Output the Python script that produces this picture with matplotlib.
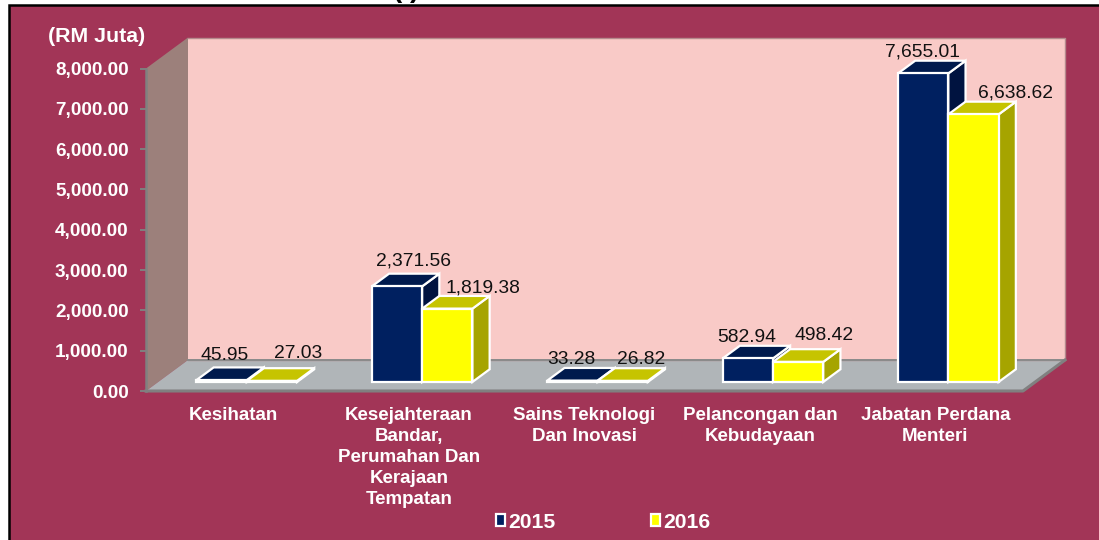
import matplotlib
matplotlib.use("Agg")
import matplotlib.pyplot as plt
from matplotlib.patches import Polygon, Rectangle, Patch
from matplotlib.ticker import FuncFormatter

plt.rcParams['font.family'] = ['Liberation Sans', 'DejaVu Sans']

categories = ["Kesihatan", "Kesejahteraan\nBandar,\nPerumahan Dan\nKerajaan\nTempatan",
              "Sains Teknologi\nDan Inovasi", "Pelancongan dan\nKebudayaan",
              "Jabatan Perdana\nMenteri"]
values_2015 = [45.95, 2371.56, 33.28, 582.94, 7655.01]
values_2016 = [27.03, 1819.38, 26.82, 498.42, 6638.62]
years = ["2015", "2016"]
y_ticks = [0, 1000, 2000, 3000, 4000, 5000, 6000, 7000, 8000]

W, H = 1099, 540
MAROON = "#A23557"
label_offsets_2015 = [(3, 24.5), (17, 25), (-1, 21.5), (-1, 21), (-1, 21)]
label_offsets_2016 = [(26, 27.5), (36, 20.5), (18, 21.5), (26, 26.5), (42, 21)]

fig = plt.figure(figsize=(W / 100, H / 100), dpi=100, facecolor="white")
# maroon panel: its black frame shows only on the left and top, the rest runs off the picture
fig.add_artist(Rectangle((8.5 / W, -0.05), 1.05, 1.05 - 5.5 / H, transform=fig.transFigure,
                         fc=MAROON, ec="black", lw=1.8, zorder=-5))
# title of the source page, cut off by the top edge: only the lower ends of its brackets show
fig.text(406 / W, 1 + 3 / H, "( )", color="black", fontsize=20, fontweight="bold",
         ha="center", va="baseline")

L, R, T, B = 146, 1023, 68.5, 391
ax = fig.add_axes([L / W, 1 - B / H, (R - L) / W, (B - T) / H])
ax.set_xlim(0, 5)
ax.set_ylim(0, 8000)
ax.patch.set_visible(False)

# oblique projection: depth 0 = front plane, depth 1 = back wall
px_x = 5 / (R - L)
px_y = 8000 / (B - T)
DX, DY = 42 * px_x, 31 * px_y


def prj(x, y, d):
    return (x + d * DX, y + d * DY)


def poly(pts, fc, ec="none", lw=0, z=1):
    ax.add_patch(Polygon([prj(*p) for p in pts], closed=True, fc=fc, ec=ec, lw=lw,
                         zorder=z, clip_on=False, joinstyle="miter"))


# walls and floor
poly([(0, 0, 1), (5, 0, 1), (5, 8000, 1), (0, 8000, 1)], "#F9CAC7", z=1)
poly([(0, 0, 0), (0, 0, 1), (0, 8000, 1), (0, 8000, 0)], "#9C807B", z=1)
poly([(0, 0, 0), (5, 0, 0), (5, 0, 1), (0, 0, 1)], "#B0B5B8", z=1)
ax.plot(*zip(prj(0, 8000, 1), prj(5, 8000, 1), prj(5, 0, 1), prj(0, 0, 1)),
        color="#B58A8D", lw=1, zorder=1.5, clip_on=False)
ax.plot(*zip(prj(0, 0, 1), prj(5, 0, 1)), color="#8A8A8A", lw=1.4, zorder=1.5, clip_on=False)
ax.plot(*zip(prj(0, 0, 0), prj(5, 0, 0), prj(5, 0, 1)), color="#808080", lw=2.2,
        zorder=1.6, clip_on=False)

# bars
BAR_W = 50.3 * px_x
D0, D1 = 0.31, 0.72
BAR_SHIFT_Y = 0.6 * px_y
series = [(values_2015, -1, "#002060", "#001A4D", "#001340"),
          (values_2016, 0, "#FFFF00", "#C6C400", "#A6A400")]
z = 3
for i in range(len(categories)):
    for vals, k, front, top, side in series:
        x0 = i + 0.5 + k * BAR_W
        x1 = x0 + BAR_W
        v = vals[i]
        b, t = -BAR_SHIFT_Y, v - BAR_SHIFT_Y
        style = dict(ec="white", lw=1.6, z=z)
        poly([(x1, b, D0), (x1, b, D1), (x1, t, D1), (x1, t, D0)], side, **style)
        poly([(x0, t, D0), (x1, t, D0), (x1, t, D1), (x0, t, D1)], top, **style)
        poly([(x0, b, D0), (x1, b, D0), (x1, t, D0), (x0, t, D0)], front, **style)
        z += 0.1

# value labels
for vals, k, offs in [(values_2015, -1, label_offsets_2015), (values_2016, 0, label_offsets_2016)]:
    for i, v in enumerate(vals):
        xy = prj(i + 0.5 + (k + 0.5) * BAR_W, v - BAR_SHIFT_Y, D0)
        ax.annotate(f"{v:,.2f}", xy=xy, xytext=(offs[i][0] * 0.72, offs[i][1] * 0.72),
                    textcoords="offset points", ha="center", va="center",
                    fontsize=13.9, color="#111111", zorder=10, annotation_clip=False)

# axes
for s in ("top", "right", "bottom"):
    ax.spines[s].set_visible(False)
ax.spines["left"].set_color("#808080")
ax.spines["left"].set_linewidth(1.8)
ax.set_yticks(y_ticks)
ax.yaxis.set_major_formatter(FuncFormatter(lambda v, _: f"{v:,.2f}"))
ax.tick_params(axis="y", colors="#808080", length=4, width=1.4, pad=8.5, labelcolor="white",
               labelsize=13.6)
for t in ax.get_yticklabels():
    t.set_fontweight("bold")
ax.set_xticks([i + 0.5 for i in range(len(categories))])
ax.set_xticklabels(categories, fontsize=13.5, fontweight="bold", color="white", linespacing=1.31)
ax.tick_params(axis="x", length=0, pad=11.5)

fig.text(97 / W, 1 - 37 / H, "(RM Juta)", color="white", fontsize=15.4, fontweight="bold",
         ha="center", va="center")

handles = [Patch(fc="#002060", ec="white", lw=1.6), Patch(fc="#FFFF00", ec="white", lw=1.6)]
fig.legend(handles, years, loc="center", bbox_to_anchor=(603 / W, 1 - 522 / H), ncol=2, frameon=False,
           prop=dict(size=15.2, weight="bold"), labelcolor="white", handlelength=0.45,
           handleheight=0.45, handletextpad=0.15, columnspacing=4.5, borderpad=0)

fig.savefig("out.png", dpi=100, facecolor="white")
